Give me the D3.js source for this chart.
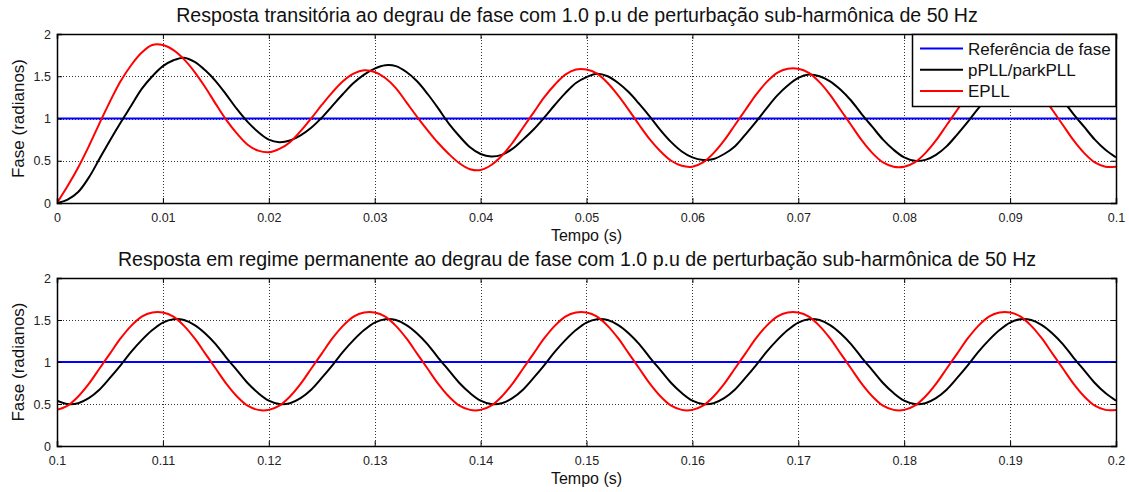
<!DOCTYPE html>
<html>
<head>
<meta charset="utf-8">
<script src="https://cdn.jsdelivr.net/npm/d3@7"></script>
<style>
  body { margin: 0; background: #fff; }
  svg { display: block; font-family: Arial, "Liberation Sans", Helvetica, sans-serif; }
</style>
</head>
<body>
<svg id="chart" width="1129" height="492"></svg>
<script>
// ---- data -------------------------------------------------------------
const phaseReference = 1.0;          // phase step (rad)
const sampleStep = 0.001;            // s

// transient window 0 .. 0.1 s
const pllTransient = [
  0, 0.04, 0.13, 0.30, 0.52, 0.74, 0.95, 1.15, 1.35, 1.50,
  1.62, 1.69, 1.72, 1.67, 1.57, 1.44, 1.28, 1.11, 0.96, 0.84,
  0.75, 0.72, 0.74, 0.80, 0.89, 1.01, 1.15, 1.29, 1.42, 1.52,
  1.59, 1.63, 1.62, 1.55, 1.44, 1.29, 1.12, 0.94, 0.79, 0.66,
  0.58, 0.55, 0.57, 0.64, 0.75, 0.87, 1.01, 1.16, 1.30, 1.42,
  1.49, 1.53, 1.50, 1.42, 1.31, 1.17, 1.02, 0.86, 0.72, 0.61,
  0.54, 0.51, 0.52, 0.58, 0.67, 0.81, 0.96, 1.12, 1.27, 1.39,
  1.48, 1.52, 1.50, 1.44, 1.34, 1.21, 1.05, 0.90, 0.75, 0.63,
  0.54, 0.50, 0.51, 0.57, 0.67, 0.81, 0.96, 1.12, 1.26, 1.38,
  1.47, 1.51, 1.50, 1.44, 1.34, 1.21, 1.05, 0.90, 0.75, 0.63,
  0.54
];
const epllTransient = [
  0, 0.20, 0.42, 0.67, 0.94, 1.20, 1.44, 1.63, 1.78, 1.87,
  1.87, 1.81, 1.70, 1.55, 1.37, 1.17, 0.98, 0.82, 0.69, 0.62,
  0.60, 0.64, 0.72, 0.85, 1.00, 1.16, 1.31, 1.44, 1.53, 1.57,
  1.55, 1.48, 1.36, 1.19, 1.02, 0.86, 0.71, 0.58, 0.47, 0.40,
  0.39, 0.45, 0.56, 0.71, 0.89, 1.07, 1.25, 1.40, 1.52, 1.58,
  1.58, 1.53, 1.42, 1.27, 1.10, 0.92, 0.75, 0.61, 0.50, 0.44,
  0.43, 0.48, 0.59, 0.74, 0.92, 1.10, 1.28, 1.43, 1.54, 1.59,
  1.59, 1.54, 1.43, 1.28, 1.10, 0.92, 0.74, 0.59, 0.48, 0.43,
  0.43, 0.48, 0.59, 0.74, 0.92, 1.10, 1.28, 1.43, 1.54, 1.59,
  1.59, 1.54, 1.43, 1.28, 1.10, 0.92, 0.74, 0.59, 0.48, 0.43,
  0.43
];

// steady-state window 0.1 .. 0.2 s
const pllSteady = [
  0.54, 0.50, 0.51, 0.57, 0.67, 0.81, 0.96, 1.12, 1.26, 1.38,
  1.47, 1.51, 1.50, 1.44, 1.34, 1.21, 1.05, 0.90, 0.75, 0.63,
  0.54, 0.50, 0.51, 0.57, 0.67, 0.81, 0.96, 1.12, 1.26, 1.38,
  1.47, 1.51, 1.50, 1.44, 1.34, 1.21, 1.05, 0.90, 0.75, 0.63,
  0.54, 0.50, 0.51, 0.57, 0.67, 0.81, 0.96, 1.12, 1.26, 1.38,
  1.47, 1.51, 1.50, 1.44, 1.34, 1.21, 1.05, 0.90, 0.75, 0.63,
  0.54, 0.50, 0.51, 0.57, 0.67, 0.81, 0.96, 1.12, 1.26, 1.38,
  1.47, 1.51, 1.50, 1.44, 1.34, 1.21, 1.05, 0.90, 0.75, 0.63,
  0.54, 0.50, 0.51, 0.57, 0.67, 0.81, 0.96, 1.12, 1.26, 1.38,
  1.47, 1.51, 1.50, 1.44, 1.34, 1.21, 1.05, 0.90, 0.75, 0.63,
  0.54
];
const epllSteady = [
  0.43, 0.48, 0.59, 0.74, 0.92, 1.10, 1.28, 1.43, 1.54, 1.59,
  1.59, 1.54, 1.43, 1.28, 1.10, 0.92, 0.74, 0.59, 0.48, 0.43,
  0.43, 0.48, 0.59, 0.74, 0.92, 1.10, 1.28, 1.43, 1.54, 1.59,
  1.59, 1.54, 1.43, 1.28, 1.10, 0.92, 0.74, 0.59, 0.48, 0.43,
  0.43, 0.48, 0.59, 0.74, 0.92, 1.10, 1.28, 1.43, 1.54, 1.59,
  1.59, 1.54, 1.43, 1.28, 1.10, 0.92, 0.74, 0.59, 0.48, 0.43,
  0.43, 0.48, 0.59, 0.74, 0.92, 1.10, 1.28, 1.43, 1.54, 1.59,
  1.59, 1.54, 1.43, 1.28, 1.10, 0.92, 0.74, 0.59, 0.48, 0.43,
  0.43, 0.48, 0.59, 0.74, 0.92, 1.10, 1.28, 1.43, 1.54, 1.59,
  1.59, 1.54, 1.43, 1.28, 1.10, 0.92, 0.74, 0.59, 0.48, 0.43,
  0.43
];

const xTicksTransient = [0, 0.01, 0.02, 0.03, 0.04, 0.05, 0.06, 0.07, 0.08, 0.09, 0.1];
const xLabelsTransient = ["0", "0.01", "0.02", "0.03", "0.04", "0.05", "0.06", "0.07", "0.08", "0.09", "0.1"];
const xTicksSteady = [0.1, 0.11, 0.12, 0.13, 0.14, 0.15, 0.16, 0.17, 0.18, 0.19, 0.2];
const xLabelsSteady = ["0.1", "0.11", "0.12", "0.13", "0.14", "0.15", "0.16", "0.17", "0.18", "0.19", "0.2"];
const yTicks = [0, 0.5, 1, 1.5, 2];
const yLabels = ["0", "0.5", "1", "1.5", "2"];

const seriesNames = ["Referência de fase", "pPLL/parkPLL", "EPLL"];
const seriesColors = ["#0000ff", "#000000", "#ff0000"];

const titles = [
  "Resposta transitória ao degrau de fase com 1.0 p.u de perturbação sub-harmônica de 50 Hz",
  "Resposta em regime permanente ao degrau de fase com 1.0 p.u de perturbação sub-harmônica de 50 Hz"
];

// ---- drawing ------------------------------------------------------------
const svg = d3.select("#chart");
const left = 57, right = 1116;

function panel(idx, top, bottom, t0, pll, epll, xTicks, xLabels, showLegend) {
  const g = svg.append("g");
  const x = d3.scaleLinear().domain([t0, t0 + 0.1]).range([left, right]);
  const y = d3.scaleLinear().domain([0, 2]).range([bottom, top]);
  const times = d3.range(pll.length).map(i => t0 + i * sampleStep);

  const clipId = "clip" + idx;
  g.append("clipPath").attr("id", clipId)
    .append("rect").attr("x", left).attr("y", top)
    .attr("width", right - left).attr("height", bottom - top);

  // dotted grid
  const grid = g.append("g").attr("stroke", "#000").attr("stroke-width", 0.8)
    .attr("stroke-dasharray", "1,2").attr("shape-rendering", "crispEdges");
  grid.selectAll(".gx").data(xTicks.slice(1, -1)).join("line")
    .attr("x1", d => Math.round(x(d)) + 0.5).attr("x2", d => Math.round(x(d)) + 0.5)
    .attr("y1", top).attr("y2", bottom);
  grid.selectAll(".gy").data(yTicks.slice(1, -1)).join("line")
    .attr("y1", d => Math.round(y(d)) + 0.5).attr("y2", d => Math.round(y(d)) + 0.5)
    .attr("x1", left).attr("x2", right);

  // series
  const line = d3.line().x(d => x(d[0])).y(d => y(d[1])).curve(d3.curveCatmullRom);
  const plot = g.append("g").attr("clip-path", `url(#${clipId})`).attr("fill", "none")
    .attr("stroke-width", 2).attr("stroke-linejoin", "round");
  plot.append("path").attr("stroke", seriesColors[0])
    .attr("d", line([[t0, phaseReference], [t0 + 0.1, phaseReference]]));
  plot.append("path").attr("stroke", seriesColors[1])
    .attr("d", line(times.map((t, i) => [t, pll[i]])));
  plot.append("path").attr("stroke", seriesColors[2])
    .attr("d", line(times.map((t, i) => [t, epll[i]])));

  // axes with inward ticks on all four sides
  const fmtX = d => xLabels[xTicks.indexOf(d)];
  const fmtY = d => yLabels[yTicks.indexOf(d)];
  const axB = g.append("g").attr("transform", `translate(0,${bottom})`)
    .call(d3.axisBottom(x).tickValues(xTicks).tickFormat(fmtX).tickSize(-5).tickPadding(10));
  const axT = g.append("g").attr("transform", `translate(0,${top})`)
    .call(d3.axisTop(x).tickValues(xTicks).tickFormat("").tickSize(-5));
  const axL = g.append("g").attr("transform", `translate(${left},0)`)
    .call(d3.axisLeft(y).tickValues(yTicks).tickFormat(fmtY).tickSize(-5).tickPadding(6));
  const axR = g.append("g").attr("transform", `translate(${right},0)`)
    .call(d3.axisRight(y).tickValues(yTicks).tickFormat("").tickSize(-5));
  [axB, axT, axL, axR].forEach(a => {
    a.select(".domain").attr("stroke", "#000").attr("stroke-width", 1.5);
    a.selectAll(".tick line").attr("stroke", "#000").attr("stroke-width", 1);
    a.selectAll("text").attr("font-family", null).attr("font-size", 12.5).attr("fill", "#222");
  });

  // titles and labels
  g.append("text").attr("x", 577).attr("y", top - 12).attr("text-anchor", "middle")
    .attr("font-size", 19.6).attr("fill", "#111").text(titles[idx]);
  g.append("text").attr("x", (left + right) / 2).attr("y", bottom + 38).attr("text-anchor", "middle")
    .attr("font-size", 16).attr("fill", "#111").text("Tempo (s)");
  g.append("text").attr("transform", `translate(24,${(top + bottom) / 2}) rotate(-90)`)
    .attr("text-anchor", "middle").attr("font-size", 17).attr("fill", "#111").text("Fase (radianos)");

  if (showLegend) {
    const lg = g.append("g");
    lg.append("rect").attr("x", 912.5).attr("y", top + 0.5).attr("width", right - 912.5).attr("height", 72)
      .attr("fill", "#fff").attr("stroke", "#000").attr("stroke-width", 1.5);
    seriesNames.forEach((name, i) => {
      const cy = top + 14.5 + i * 21.3;
      lg.append("line").attr("x1", 920).attr("x2", 963).attr("y1", cy).attr("y2", cy)
        .attr("stroke", seriesColors[i]).attr("stroke-width", 2);
      lg.append("text").attr("x", 968).attr("y", cy + 6).attr("font-size", 17).attr("fill", "#111").text(name);
    });
  }
}

panel(0, 34, 203, 0, pllTransient, epllTransient, xTicksTransient, xLabelsTransient, true);
panel(1, 278, 446, 0.1, pllSteady, epllSteady, xTicksSteady, xLabelsSteady, false);
</script>
</body>
</html>
